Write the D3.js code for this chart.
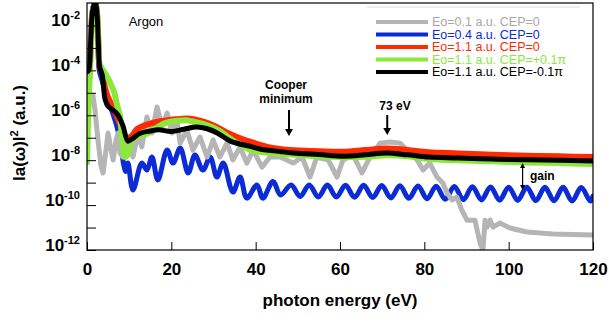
<!DOCTYPE html>
<html><head><meta charset="utf-8">
<script src="https://cdn.jsdelivr.net/npm/d3@7"></script>
<style>body{margin:0;background:#fff}svg{display:block}</style>
</head><body><svg id="c" width="609" height="322"></svg>
<script>
// ---------- data (photon energy in eV, log10 |a(w)|^2) ----------
const xTickValues=[0,20,40,60,80,100,120];
const yTickExps=[-2,-4,-6,-8,-10,-12];
const legendLabels=["Eo=0.1 a.u. CEP=0","Eo=0.4 a.u. CEP=0","Eo=1.1 a.u. CEP=0","Eo=1.1 a.u. CEP=+0.1\u03c0","Eo=1.1 a.u. CEP=-0.1\u03c0"];

const grayE01=[[0,-5.77],[0.7,-5.32],[1.4,-5.1],[1.9,-5.77],[2.6,-7.1],[3.3,-8.22],[3.8,-8.57],[4.5,-7.55],[5.0,-6.79],[5.7,-7.55],[6.2,-7.99],[6.9,-7.1],[7.4,-6.79],[7.8,-7.68],[8.5,-7.86],[9.0,-7.55],[9.7,-7.1],[10.9,-7.86],[12.1,-6.79],[13.0,-7.41],[14.2,-6.08],[15.4,-6.79],[16.6,-5.63],[17.8,-6.52],[19.0,-5.9],[20.2,-6.79],[21.3,-6.21],[22.1,-7.24],[23.7,-6.66],[25.1,-7.55],[26.8,-6.97],[28.5,-7.86],[29.9,-7.1],[31.5,-7.86],[33.2,-7.24],[34.6,-7.99],[36.3,-7.41],[37.9,-8.13],[39.4,-7.55],[41.5,-8.31],[43.4,-7.86],[45.8,-7.86],[48.9,-8.13],[51.0,-7.86],[52.9,-8.75],[54.5,-7.86],[57.2,-7.99],[59.3,-8.75],[60.7,-7.99],[63.1,-7.77],[65.2,-8.57],[67.1,-7.86],[69.5,-7.24],[71.9,-7.19],[74.2,-7.24],[76.6,-7.68],[78.3,-7.99],[79.7,-8.44],[81.3,-8.13],[83.0,-8.75],[84.4,-9.02],[85.4,-9.46],[86.6,-9.77],[87.7,-9.64],[88.9,-10.22],[90.1,-10.67],[92.0,-10.67],[93.2,-11.69],[93.9,-12.0],[94.4,-10.67],[94.9,-10.98],[95.6,-10.67],[96.3,-10.98],[97.9,-10.8],[100.3,-11.02],[104.3,-11.2],[110.5,-11.29],[120,-11.33]];

const blueE04=[[0,-4.3],[0.4,-4.2],[0.9,-2.6],[1.3,-1.4],[1.9,-0.95],[2.3,-1.3],[2.6,-2.8],[2.9,-4.0],[3.5,-4.4],[4.7,-5.19],[6.0,-5.85],[7.1,-6.5],[8.1,-7.4],[8.7,-8.2],[9.2,-8.5],[9.7,-8.13],[10.9,-9.33],[13.0,-8.13],[14.2,-8.44],[15.4,-7.86],[16.8,-8.88],[19.0,-7.55],[20.4,-8.13],[22.1,-7.46],[24.0,-8.57],[25.6,-7.77],[27.5,-8.44],[29.2,-7.86],[30.8,-8.75],[32.3,-8.13],[34.6,-9.42],[36.3,-8.75],[37.9,-9.69],[40.3,-9.11],[41.7,-9.69],[44.1,-8.95],[45.9,-9.55],[48.4,-9.1],[50.55,-9.62],[52.7,-9.1],[54.85,-9.64],[57.0,-9.11],[59.15,-9.64],[61.3,-9.12],[63.45,-9.65],[65.6,-9.12],[67.75,-9.66],[69.9,-9.13],[72.05,-9.68],[74.2,-9.14],[76.35,-9.7],[78.5,-9.15],[80.65,-9.72],[82.8,-9.16],[84.95,-9.74],[87.1,-9.17],[89.25,-9.76],[91.4,-9.18],[93.55,-9.77],[95.7,-9.19],[97.85,-9.78],[100.0,-9.2],[102.15,-9.79],[104.3,-9.2],[106.45,-9.8],[108.6,-9.21],[110.75,-9.81],[112.9,-9.21],[115.05,-9.82],[117.2,-9.22],[119.35,-9.82],[120,-9.6]];

const redCEP0=[[0,-4.65],[0.4,-4.5],[0.9,-2.6],[1.3,-1.4],[1.9,-0.95],[2.3,-1.3],[2.7,-2.8],[3.0,-3.85],[3.6,-4.1],[4.3,-4.8],[5.0,-5.2],[6.0,-5.6],[7.2,-6.1],[8.5,-6.7],[9.5,-7.05],[10.7,-6.9],[12,-6.6],[15.4,-6.35],[18,-6.25],[21,-6.18],[24.4,-6.15],[27,-6.25],[30,-6.45],[33,-6.75],[36,-7.0],[39,-7.2],[43,-7.42],[48,-7.55],[55,-7.6],[61,-7.62],[66,-7.55],[71,-7.48],[76,-7.55],[81,-7.65],[88,-7.7],[96,-7.76],[104,-7.8],[112,-7.83],[120,-7.86]];

const greenCEPp=[[0,-8.1],[0.3,-6.0],[0.6,-4.5],[1.0,-2.7],[1.4,-1.3],[1.9,-0.95],[2.3,-1.3],[2.7,-2.6],[3.0,-3.7],[3.5,-3.9],[4.5,-4.2],[5.5,-4.55],[6.5,-5.0],[7.2,-5.6],[7.8,-6.0],[8.4,-7.2],[9.0,-7.85],[9.5,-7.8],[10.7,-7.1],[12,-6.95],[14.2,-6.82],[16.6,-6.55],[18.5,-6.35],[21.3,-6.25],[23.5,-6.22],[25.5,-6.3],[28.5,-6.45],[31.5,-6.7],[34,-7.05],[39,-7.55],[45,-7.7],[50,-7.76],[58,-7.85],[66,-7.85],[71,-7.78],[76,-7.82],[81,-7.95],[88,-8.0],[96,-8.05],[104,-8.1],[112,-8.13],[120,-8.17]];

const blackCEPm=[[0,-4.07],[0.4,-4.0],[0.9,-2.6],[1.3,-1.4],[1.9,-0.95],[2.3,-1.3],[2.7,-2.8],[3.0,-3.85],[3.6,-4.2],[4.3,-5.3],[5.0,-5.6],[6.0,-5.75],[7.2,-5.95],[8.5,-6.45],[9.7,-7.15],[10.7,-7.05],[12.6,-6.8],[15,-6.7],[17,-6.65],[20,-6.72],[23,-6.62],[26,-6.52],[28.5,-6.6],[31,-6.8],[34,-7.15],[39,-7.4],[41,-7.5],[46,-7.62],[49,-7.68],[55,-7.75],[61,-7.82],[66,-7.76],[71,-7.68],[76,-7.76],[81,-7.86],[88,-7.9],[96,-7.95],[104,-7.98],[112,-8.0],[120,-8.04]];

// ---------- drawing ----------
const svg=d3.select("#c");
const X0=87,X1=593,Y0=3,Y1=250;
const x=d3.scaleLinear().domain([0,120]).range([X0,X1]);
const y=d3.scaleLog().domain([1e-12,1e-1]).range([Y1,Y0]);
const FONT="'Liberation Sans', Arial, Helvetica, sans-serif";

svg.append("defs").append("clipPath").attr("id","pc")
  .append("rect").attr("x",X0).attr("y",Y0).attr("width",X1-X0).attr("height",Y1-Y0);

const series=[
  {data:blueE04,color:"#0a2bd6",w:5,curve:d3.curveCatmullRom.alpha(0.5)},
  {data:grayE01,color:"#b5b5b5",w:5,curve:d3.curveLinear},
  {data:redCEP0,color:"#ff2a00",w:6,curve:d3.curveCatmullRom.alpha(0.5)},
  {data:greenCEPp,color:"#8be83a",w:6,curve:d3.curveCatmullRom.alpha(0.5)},
  {data:blackCEPm,color:"#000000",w:5,curve:d3.curveCatmullRom.alpha(0.5)}
];
const g=svg.append("g").attr("clip-path","url(#pc)");
series.forEach(s=>{
  const line=d3.line().x(d=>x(d[0])).y(d=>y(Math.pow(10,d[1]))).curve(s.curve);
  g.append("path").datum(s.data).attr("d",line).attr("fill","none")
   .attr("stroke",s.color).attr("stroke-width",s.w).attr("stroke-linejoin","round").attr("stroke-linecap","round");
});

// axes ticks
const xa=svg.append("g").attr("transform",`translate(0,${Y1})`)
  .call(d3.axisBottom(x).tickValues(xTickValues).tickSizeInner(-8).tickSizeOuter(0).tickPadding(13).tickFormat(d3.format("d")));
xa.select(".domain").remove();
xa.selectAll("line").attr("stroke","#000");
xa.selectAll("text").attr("font-family",FONT).attr("font-weight","bold").attr("font-size",17).attr("fill","#000").attr("dy","0.71em");

const yDecades=d3.range(-12,-1).map(e=>Math.pow(10,e));
const ya=svg.append("g").attr("transform",`translate(${X0},0)`)
  .call(d3.axisLeft(y).tickValues(yDecades).tickSizeInner(-9).tickSizeOuter(0).tickFormat(""));
ya.select(".domain").remove();
ya.selectAll("line").attr("stroke","#000");

yTickExps.forEach(e=>{
  const t=svg.append("text").attr("x",80).attr("y",y(Math.pow(10,e))+1).attr("text-anchor","end")
    .attr("font-family",FONT).attr("font-weight","bold").attr("font-size",17).attr("fill","#000");
  t.append("tspan").text("10");
  t.append("tspan").attr("dy",-7).attr("font-size",11).text(String(e));
});

// frame
svg.append("rect").attr("x",X0).attr("y",Y0).attr("width",X1-X0).attr("height",Y1-Y0)
  .attr("fill","none").attr("stroke","#000").attr("stroke-width",1.2);

// axis titles
svg.append("text").attr("x",(X0+X1)/2).attr("y",306).attr("text-anchor","middle")
  .attr("font-family",FONT).attr("font-weight","bold").attr("font-size",17).text("photon energy (eV)");
const yt=svg.append("text").attr("transform","translate(25,133) rotate(-90)").attr("text-anchor","middle")
  .attr("font-family",FONT).attr("font-weight","bold").attr("font-size",17);
yt.append("tspan").text("Ia(\u03c9)I");
yt.append("tspan").attr("dy",-7).attr("font-size",11).text("2");
yt.append("tspan").attr("dy",7).text(" (a.u.)");

// legend
svg.append("line").attr("x1",367).attr("x2",580).attr("y1",7).attr("y2",7).attr("stroke","#dcdcdc").attr("stroke-width",1);
const legColors=["#b5b5b5","#0a2bd6","#ff2a00","#8be83a","#000000"];
const legText=["#a8a8a8","#0a2bd6","#ff2a00","#8be83a","#000000"];
const legY=[22,34.5,47,59.5,72];
legendLabels.forEach((lab,i)=>{
  svg.append("line").attr("x1",376).attr("x2",428).attr("y1",legY[i]).attr("y2",legY[i])
    .attr("stroke",legColors[i]).attr("stroke-width",4);
  svg.append("text").attr("x",432).attr("y",legY[i]+4.3).attr("font-family",FONT).attr("font-size",12.5)
    .attr("fill",legText[i]).text(lab);
});

// annotations
svg.append("text").attr("x",146).attr("y",26).attr("text-anchor","middle").attr("font-family",FONT)
  .attr("font-size",13).text("Argon");
const ann=(txt,xx,yy)=>svg.append("text").attr("x",xx).attr("y",yy).attr("text-anchor","middle")
  .attr("font-family",FONT).attr("font-weight","bold").attr("font-size",12).text(txt);
ann("Cooper",286,89);ann("minimum",286,103);ann("73 eV",395,110);
svg.append("text").attr("x",530).attr("y",180).attr("font-family",FONT).attr("font-weight","bold").attr("font-size",12).text("gain");

function arrowDown(ax,y1,y2){
  svg.append("line").attr("x1",ax).attr("x2",ax).attr("y1",y1).attr("y2",y2-5).attr("stroke","#000").attr("stroke-width",2);
  svg.append("path").attr("d",`M${ax-4},${y2-7}L${ax+4},${y2-7}L${ax},${y2}Z`).attr("fill","#000");
}
arrowDown(x(47.9),110,136);
arrowDown(x(71.2),115,135);
// double arrow (gain)
const gx=x(103.3);
svg.append("line").attr("x1",gx).attr("x2",gx).attr("y1",167).attr("y2",186).attr("stroke","#000").attr("stroke-width",1.2);
svg.append("path").attr("d",`M${gx-2.5},${168}L${gx+2.5},${168}L${gx},${163}Z`).attr("fill","#000");
svg.append("path").attr("d",`M${gx-2.5},${185}L${gx+2.5},${185}L${gx},${190}Z`).attr("fill","#000");
</script></body></html>
